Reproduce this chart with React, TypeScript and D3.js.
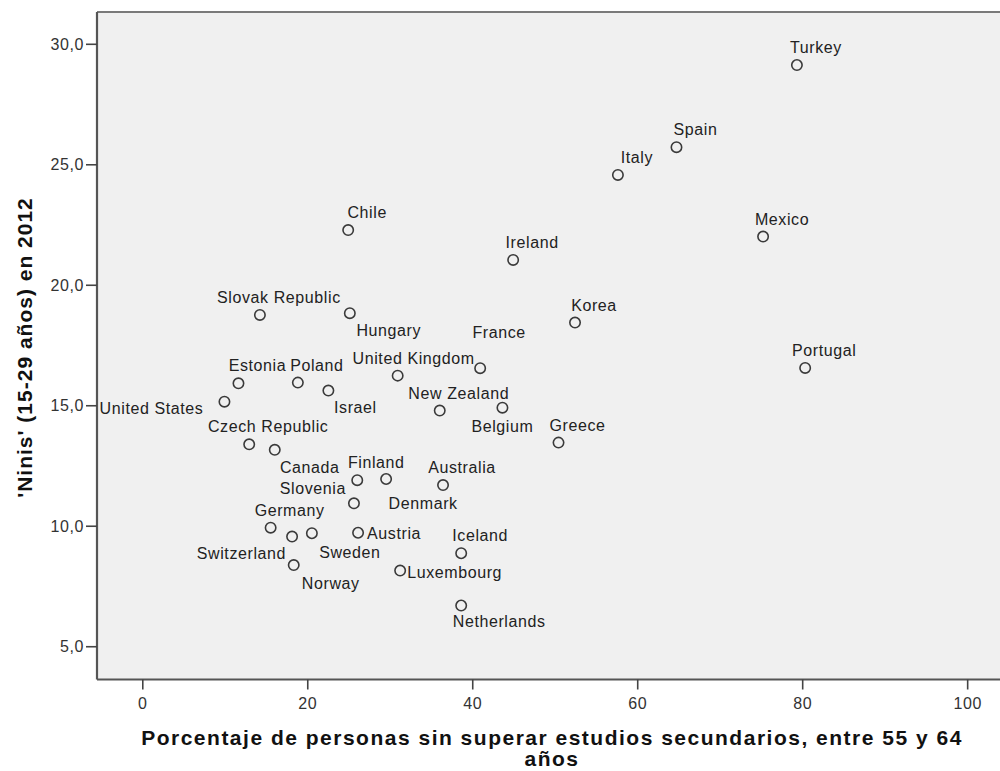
import React from "react";
import * as d3 from "d3";

const countries = [
  "Turkey", "Spain", "Italy", "Mexico", "Chile", "Ireland", "Slovak Republic", "Hungary",
  "Korea", "France", "United Kingdom", "Portugal", "Poland", "Estonia", "Israel", "United States",
  "New Zealand", "Belgium", "Greece", "Czech Republic", "Canada", "Finland", "Denmark", "Slovenia",
  "Australia", "Germany", "Austria", "Switzerland", "Sweden", "Norway", "Iceland", "Luxembourg",
  "Netherlands",
];
const lowEducation55to64 = [
  79.3, 64.7, 57.6, 75.2, 24.9, 44.9, 14.2, 25.1,
  52.4, 40.9, 30.9, 80.3, 18.8, 11.6, 22.5, 9.9,
  36.0, 43.6, 50.4, 12.9, 16.0, 26.0, 29.5, 25.6,
  36.4, 15.5, 26.1, 18.1, 20.5, 18.3, 38.6, 31.2,
  38.6,
];
const neetRate2012 = [
  29.14, 25.73, 24.58, 22.02, 22.29, 21.05, 18.77, 18.84,
  18.45, 16.56, 16.25, 16.57, 15.96, 15.93, 15.63, 15.17,
  14.80, 14.92, 13.47, 13.40, 13.17, 11.91, 11.96, 10.95,
  11.71, 9.94, 9.73, 9.57, 9.71, 8.39, 8.88, 8.16,
  6.71,
];
const xTicks = [0, 20, 40, 60, 80, 100];
const yTicks = [5, 10, 15, 20, 25, 30];
const xTitleLines = ["Porcentaje de personas sin superar estudios secundarios, entre 55 y 64", "años"];
const yTitle = "'Ninis' (15-29 años) en 2012";

// label placement relative to the marker: [dx, dy(baseline), anchor]
const labelPlacement: Record<string, [number, number, string]> = {
  Hungary: [39, 23, "middle"],
  France: [19, -30, "middle"],
  "United Kingdom": [16, -12, "middle"],
  Israel: [27, 22, "middle"],
  "United States": [-21, 12.5, "end"],
  Belgium: [0, 24, "middle"],
  Canada: [35, 23, "middle"],
  Denmark: [37, 30, "middle"],
  Slovenia: [-41, -9, "middle"],
  Austria: [9, 6, "start"],
  Switzerland: [-6, 22, "end"],
  Sweden: [38, 25, "middle"],
  Norway: [37, 24, "middle"],
  Luxembourg: [7, 7, "start"],
  Netherlands: [38, 21, "middle"],
};
const defaultPlacement: [number, number, string] = [19, -12, "middle"];

const W = 1000;
const H = 771;
const plot = { left: 97, right: 1000, top: 12, bottom: 679.5 };

const locale = d3.formatLocale({ decimal: ",", thousands: ".", grouping: [3], currency: ["", "€"] });
const fmtY = locale.format(".1f");

export default function App() {
  const x = d3.scaleLinear().domain([-5.55, 103.92]).range([plot.left, plot.right]);
  const y = d3.scaleLinear().domain([3.64, 31.34]).range([plot.bottom, plot.top]);
  const font = "'Liberation Sans', Arial, sans-serif";
  const titleX = 552;

  return (
    <svg width={W} height={H} style={{ position: "absolute", left: 0, top: 0, background: "#fff" }}
      fontFamily={font}>
      <rect x={plot.left} y={plot.top} width={plot.right - plot.left} height={plot.bottom - plot.top}
        fill="#f0f0f0" />
      {/* frame */}
      <line x1={plot.left} x2={plot.right} y1={plot.top} y2={plot.top} stroke="#7a7a7a" strokeWidth={2} />
      <line x1={plot.left} x2={plot.left} y1={plot.top} y2={plot.bottom} stroke="#555" strokeWidth={2.2} />
      <line x1={plot.left} x2={plot.right} y1={plot.bottom} y2={plot.bottom} stroke="#555" strokeWidth={2.2} />

      {/* y axis */}
      {yTicks.map((t) => (
        <g key={"y" + t}>
          <line x1={plot.left - 11} x2={plot.left} y1={y(t)} y2={y(t)} stroke="#444" strokeWidth={1.6} />
          <text x={plot.left - 13} y={y(t) + 5.5} textAnchor="end" fontSize={16} fill="#333"
            letterSpacing={0.6}>{fmtY(t)}</text>
        </g>
      ))}
      {/* x axis */}
      {xTicks.map((t) => (
        <g key={"x" + t}>
          <line x1={x(t)} x2={x(t)} y1={plot.bottom} y2={plot.bottom + 10} stroke="#444" strokeWidth={1.6} />
          <text x={x(t)} y={709} textAnchor="middle" fontSize={16} fill="#333" letterSpacing={0.6}>{t}</text>
        </g>
      ))}

      {/* axis titles */}
      <text x={titleX} y={745} textAnchor="middle" fontSize={21} fontWeight="bold" fill="#111"
        letterSpacing={1.5}>{xTitleLines[0]}</text>
      <text x={titleX} y={766} textAnchor="middle" fontSize={21} fontWeight="bold" fill="#111"
        letterSpacing={1.5}>{xTitleLines[1]}</text>
      <text transform={`translate(32, 347.5) rotate(-90)`} textAnchor="middle" fontSize={21}
        fontWeight="bold" fill="#111" letterSpacing={1}>{yTitle}</text>

      {/* points */}
      {countries.map((c, i) => {
        const cx = x(lowEducation55to64[i]);
        const cy = y(neetRate2012[i]);
        const [dx, dy, anchor] = labelPlacement[c] || defaultPlacement;
        return (
          <g key={c}>
            <circle cx={cx} cy={cy} r={5.2} fill="none" stroke="#3a3a3a" strokeWidth={1.6} />
            <text x={cx + dx} y={cy + dy} textAnchor={anchor as any} fontSize={16} fill="#222"
              letterSpacing={0.6}>{c}</text>
          </g>
        );
      })}
    </svg>
  );
}
